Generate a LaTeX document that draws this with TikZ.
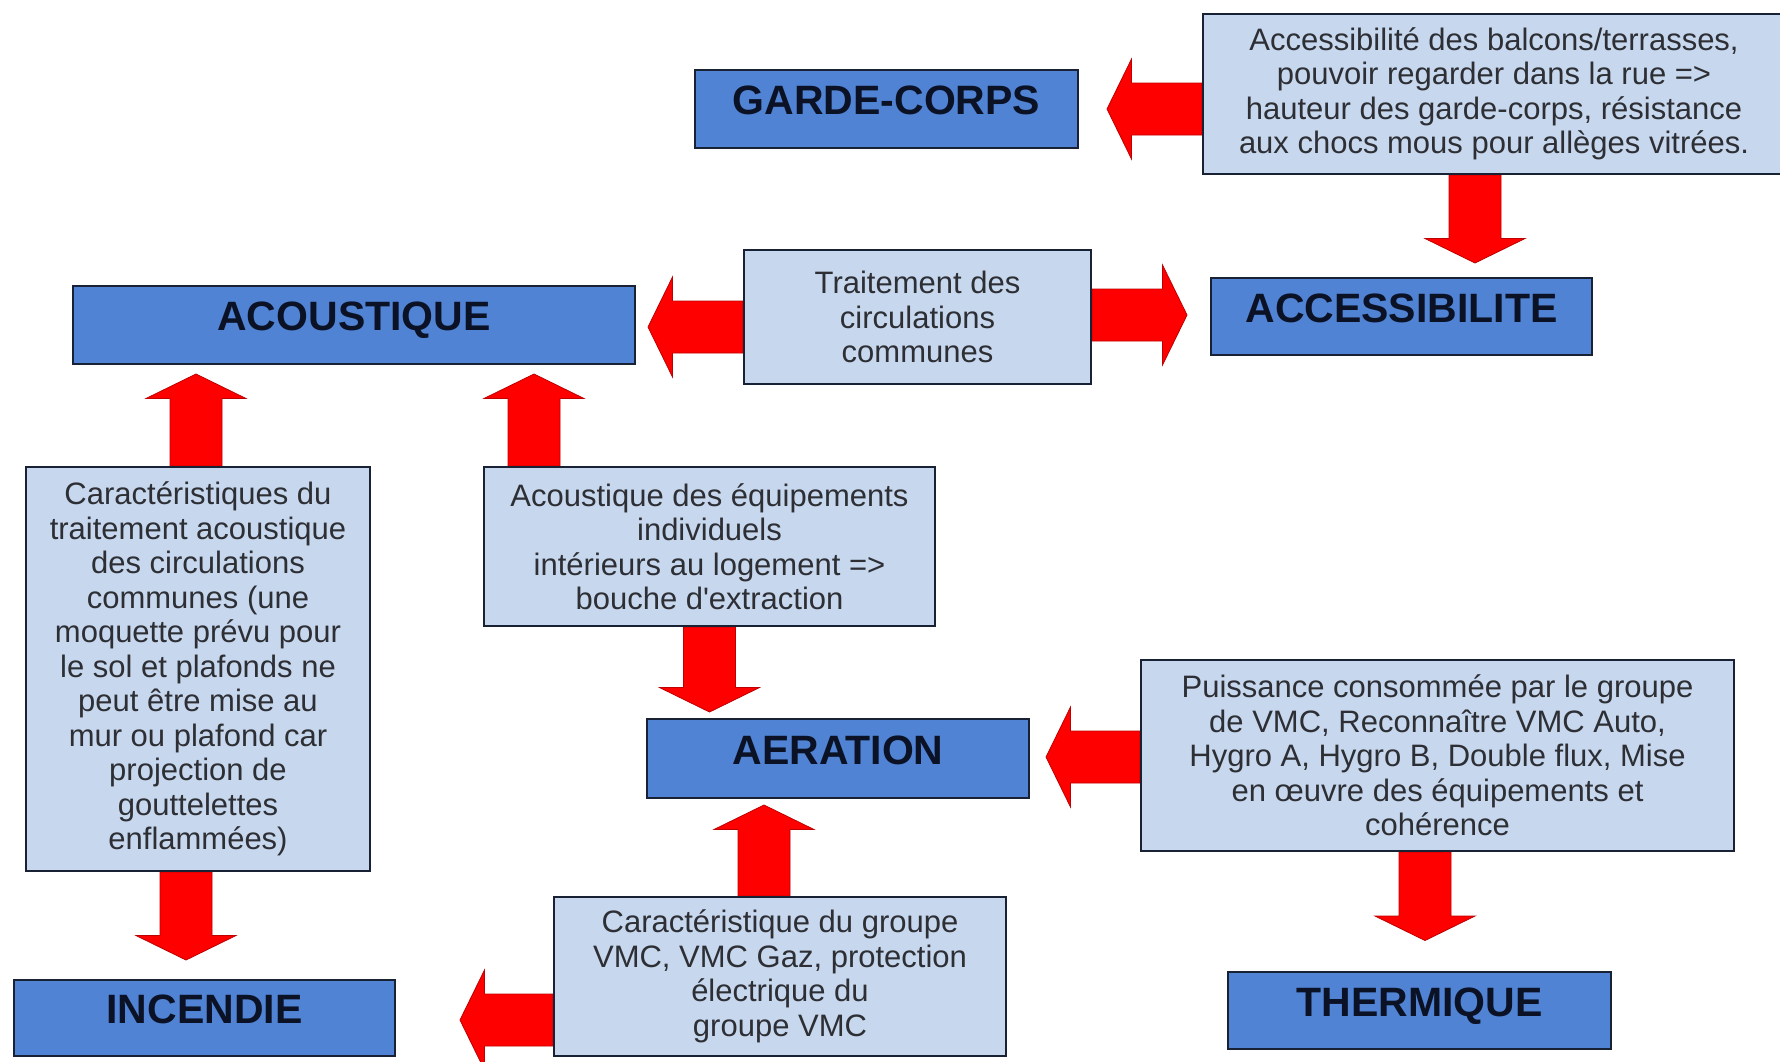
\documentclass[tikz,border=0pt]{standalone}
\usepackage{fontspec}
\setmainfont{Liberation Sans}[Ligatures=TeXOff]
\usetikzlibrary{calc}
\definecolor{darkb}{RGB}{80,131,211}
\definecolor{lightb}{RGB}{198,215,238}
\definecolor{bordc}{RGB}{25,33,52}
\definecolor{titlec}{RGB}{12,18,38}
\definecolor{bodyc}{RGB}{45,47,52}
\definecolor{arrred}{RGB}{255,0,0}
\definecolor{arredge}{RGB}{190,0,0}
\pgfdeclarelayer{bg}
\pgfsetlayers{bg,main}
\newcommand\arrS{13pt}
\newcommand\arrH{25pt}
\newcommand\arrL{12.25pt}
\newcommand\blockarrow[2]{%
  \path #1 coordinate (bt) #2 coordinate (bp);
  \path ($(bp)!\arrL!(bt)$) coordinate (bb);
  \filldraw[arrowstyle] ($(bt)!\arrS!90:(bp)$) -- ($(bb)!\arrS!90:(bp)$) -- ($(bb)!\arrH!90:(bp)$)
    -- (bp) -- ($(bb)!\arrH!-90:(bp)$) -- ($(bb)!\arrS!-90:(bp)$) -- ($(bt)!\arrS!-90:(bp)$) -- cycle;
}
\tikzset{
  titlebox/.style={draw=bordc, line width=1pt, fill=darkb, text=titlec,
    font=\bfseries\fontsize{20.5}{24}\selectfont, inner sep=0pt, text depth=8.5pt},
  infobox/.style={draw=bordc, line width=0.9pt, fill=lightb, text=bodyc,
    font=\fontsize{15.5}{17.25}\selectfont, align=center, inner sep=0pt},
  arrowstyle/.style={fill=arrred, draw=arredge, line width=0.4pt, line join=miter}
}
\begin{document}
\begin{tikzpicture}[x=0.5pt,y=-0.5pt]
\useasboundingbox (0,0) rectangle (1780,1061);
\clip (0,0) rectangle (1780,1061);

% title boxes
\node[titlebox, minimum width=191.5pt, minimum height=39pt] (GC) at (886.5,109) {GARDE-CORPS};
\node[titlebox, minimum width=190.5pt, minimum height=38.5pt] (ACC) at (1401.5,316.5) {ACCESSIBILITE};
\node[titlebox, minimum width=281pt, minimum height=39pt] (ACO) at (354,325) {ACOUSTIQUE};
\node[titlebox, minimum width=191pt, minimum height=39.5pt] (AER) at (838,758.5) {AERATION};
\node[titlebox, minimum width=190.5pt, minimum height=38pt] (INC) at (204.5,1018) {INCENDIE};
\node[titlebox, minimum width=191.5pt, minimum height=38.5pt] (THE) at (1419.5,1010.5) {THERMIQUE};

% information boxes
\node[infobox, minimum width=291pt, minimum height=80pt] (ACCB) at (1494,94)
  {Accessibilité des balcons/terrasses,\\pouvoir regarder dans la rue =>\\hauteur des garde-corps, résistance\\aux chocs mous pour allèges vitrées.};
\node[infobox, minimum width=173.5pt, minimum height=67pt] (TRA) at (917.5,317)
  {Traitement des\\circulations\\communes};
\node[infobox, minimum width=172pt, minimum height=202pt] (CAR) at (198,669)
  {Caractéristiques du\\traitement acoustique\\des circulations\\communes (une\\moquette prévu pour\\le sol et plafonds ne\\peut être mise au\\mur ou plafond car\\projection de\\gouttelettes\\enflammées)};
\node[infobox, minimum width=225.5pt, minimum height=79.5pt] (ACE) at (709.5,546.5)
  {Acoustique des équipements\\individuels\\intérieurs au logement =>\\bouche d'extraction};
\node[infobox, minimum width=226pt, minimum height=79.5pt] (VMC) at (780,976.5)
  {Caractéristique du groupe\\VMC, VMC Gaz, protection\\électrique du\\groupe VMC};
\node[infobox, minimum width=296.5pt, minimum height=95.5pt] (PUI) at (1437.5,755.5)
  {Puissance consommée par le groupe\\de VMC, Reconnaître VMC Auto,\\Hygro A, Hygro B, Double flux, Mise\\en œuvre des équipements et\\cohérence};

% block arrows
\begin{pgfonlayer}{bg}
\fill[white] (0,0) rectangle (1780,1061);
\blockarrow{($(ACCB.west |- GC.east)$)}{($(GC.east)+(28,0)$)}
\blockarrow{($(ACCB.south)+(-19,0)$)}{($(ACC.north)+(73.5,-14)$)}
\blockarrow{($(TRA.east)+(0,-2)$)}{($(ACC.west)+(-23,-1.5)$)}
\blockarrow{($(TRA.west)+(0,10)$)}{($(ACO.east)+(12,2)$)}
\blockarrow{($(CAR.north)+(-2,0)$)}{($(ACO.south)+(-158,9)$)}
\blockarrow{($(ACE.north)+(-175.5,0)$)}{($(ACO.south)+(180,9)$)}
\blockarrow{(ACE.south)}{($(AER.north)+(-128.5,-6)$)}
\blockarrow{($(VMC.north)+(-16,0)$)}{($(AER.south)+(-74,6)$)}
\blockarrow{($(VMC.west)+(0,43.5)$)}{($(INC.east)+(64,2)$)}
\blockarrow{($(CAR.south)+(-12,0)$)}{($(INC.north)+(-18.5,-19)$)}
\blockarrow{($(PUI.west)+(0,1.5)$)}{($(AER.east)+(16,-1.5)$)}
\blockarrow{($(PUI.south)+(-12.5,0)$)}{($(THE.north)+(5.5,-30.5)$)}
\end{pgfonlayer}
\end{tikzpicture}
\end{document}
